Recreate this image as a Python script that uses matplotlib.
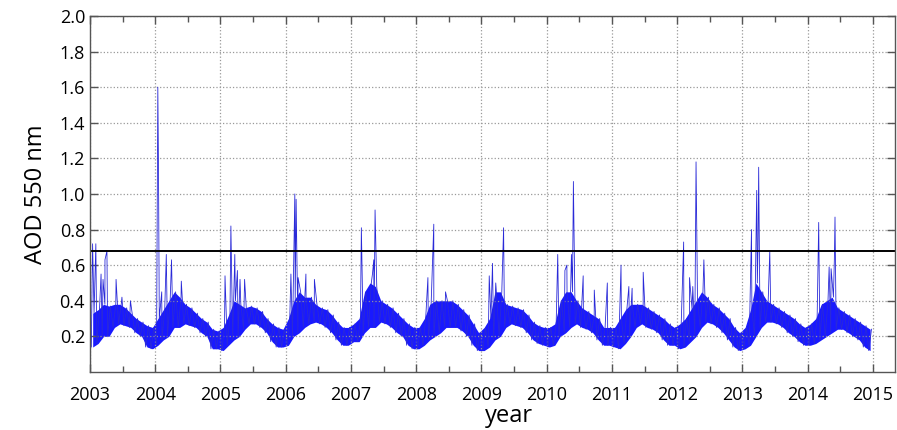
import numpy as np
import matplotlib
matplotlib.use("Agg")
import matplotlib.pyplot as plt
from matplotlib.ticker import MultipleLocator

# data (monthly envelope of the daily AOD + isolated spikes)
years = list(range(2003, 2015))

aod_low = [
    [0.14, 0.16, 0.20, 0.20, 0.25, 0.27, 0.26, 0.25, 0.22, 0.20, 0.14, 0.13],  # 2003
    [0.15, 0.18, 0.20, 0.25, 0.25, 0.27, 0.26, 0.25, 0.22, 0.20, 0.13, 0.13],  # 2004
    [0.12, 0.15, 0.18, 0.20, 0.24, 0.27, 0.27, 0.25, 0.22, 0.17, 0.14, 0.14],  # 2005
    [0.15, 0.20, 0.22, 0.25, 0.27, 0.28, 0.27, 0.25, 0.22, 0.18, 0.15, 0.15],  # 2006
    [0.17, 0.17, 0.22, 0.25, 0.25, 0.28, 0.27, 0.25, 0.22, 0.20, 0.15, 0.13],  # 2007
    [0.13, 0.15, 0.18, 0.20, 0.22, 0.25, 0.25, 0.25, 0.23, 0.20, 0.15, 0.12],  # 2008
    [0.12, 0.14, 0.18, 0.20, 0.25, 0.27, 0.26, 0.25, 0.22, 0.18, 0.16, 0.15],  # 2009
    [0.14, 0.15, 0.20, 0.22, 0.25, 0.27, 0.25, 0.24, 0.22, 0.18, 0.15, 0.15],  # 2010
    [0.14, 0.13, 0.16, 0.20, 0.25, 0.27, 0.25, 0.24, 0.22, 0.18, 0.15, 0.15],  # 2011
    [0.13, 0.14, 0.17, 0.20, 0.25, 0.28, 0.27, 0.25, 0.22, 0.18, 0.14, 0.12],  # 2012
    [0.13, 0.15, 0.20, 0.25, 0.28, 0.28, 0.27, 0.25, 0.22, 0.20, 0.17, 0.15],  # 2013
    [0.15, 0.16, 0.18, 0.20, 0.22, 0.24, 0.24, 0.22, 0.20, 0.18, 0.14, 0.12],  # 2014
]
aod_high = [
    [0.33, 0.35, 0.38, 0.37, 0.38, 0.38, 0.36, 0.33, 0.30, 0.28, 0.26, 0.25],  # 2003
    [0.30, 0.35, 0.40, 0.45, 0.42, 0.38, 0.36, 0.33, 0.30, 0.28, 0.24, 0.23],  # 2004
    [0.25, 0.32, 0.40, 0.38, 0.36, 0.37, 0.36, 0.34, 0.30, 0.27, 0.25, 0.24],  # 2005
    [0.30, 0.40, 0.45, 0.42, 0.42, 0.38, 0.36, 0.35, 0.32, 0.28, 0.25, 0.25],  # 2006
    [0.27, 0.30, 0.45, 0.50, 0.48, 0.40, 0.38, 0.36, 0.33, 0.30, 0.27, 0.25],  # 2007
    [0.25, 0.30, 0.38, 0.40, 0.40, 0.40, 0.40, 0.38, 0.35, 0.32, 0.27, 0.22],  # 2008
    [0.25, 0.30, 0.45, 0.45, 0.38, 0.37, 0.36, 0.35, 0.32, 0.28, 0.26, 0.25],  # 2009
    [0.25, 0.27, 0.40, 0.45, 0.45, 0.40, 0.36, 0.34, 0.32, 0.30, 0.25, 0.25],  # 2010
    [0.25, 0.30, 0.35, 0.38, 0.38, 0.38, 0.36, 0.34, 0.32, 0.30, 0.27, 0.25],  # 2011
    [0.27, 0.30, 0.35, 0.40, 0.45, 0.42, 0.38, 0.36, 0.33, 0.30, 0.25, 0.22],  # 2012
    [0.25, 0.35, 0.50, 0.45, 0.40, 0.38, 0.36, 0.34, 0.32, 0.30, 0.27, 0.25],  # 2013
    [0.27, 0.30, 0.38, 0.40, 0.42, 0.36, 0.34, 0.32, 0.30, 0.28, 0.26, 0.24],  # 2014
]

spike_year = [2003.04, 2003.09, 2003.17, 2003.20, 2003.23, 2003.26, 2003.40, 2003.49, 2003.62,
              2004.04, 2004.05, 2004.10, 2004.17, 2004.25, 2004.40,
              2005.07, 2005.16, 2005.22, 2005.26, 2005.30, 2005.37,
              2006.08, 2006.14, 2006.16, 2006.19, 2006.31, 2006.44,
              2007.16, 2007.33, 2007.35, 2007.37,
              2008.18, 2008.27, 2008.45,
              2009.12, 2009.17, 2009.22, 2009.34,
              2010.17, 2010.28, 2010.31, 2010.38, 2010.41, 2010.56, 2010.73, 2010.93,
              2011.14, 2011.26, 2011.31, 2011.48,
              2012.10, 2012.19, 2012.24, 2012.29, 2012.41,
              2013.14, 2013.22, 2013.24, 2013.25, 2013.42,
              2014.17, 2014.33, 2014.36, 2014.41, 2014.42]
spike_aod = [0.72, 0.72, 0.55, 0.52, 0.63, 0.68, 0.52, 0.42, 0.40,
             1.60, 1.16, 0.45, 0.66, 0.63, 0.51,
             0.54, 0.82, 0.66, 0.57, 0.52, 0.52,
             0.55, 1.00, 0.97, 0.53, 0.55, 0.52,
             0.81, 0.55, 0.63, 0.91,
             0.53, 0.83, 0.45,
             0.54, 0.61, 0.50, 0.81,
             0.66, 0.57, 0.60, 0.66, 1.07, 0.54, 0.46, 0.50,
             0.60, 0.48, 0.47, 0.56,
             0.73, 0.53, 0.48, 1.18, 0.63,
             0.80, 1.02, 0.69, 1.15, 0.68,
             0.84, 0.59, 0.58, 0.63, 0.87]

threshold = 0.68

# zigzag through monthly low/high, then drop the spikes in at their dates
xs, ys, xc, lo, hi = [], [], [], [], []
for i, yr in enumerate(years):
    for m in range(12):
        xs += [yr + (m + 0.25) / 12, yr + (m + 0.75) / 12]
        ys += [aod_low[i][m], aod_high[i][m]]
        xc.append(yr + (m + 0.5) / 12)
        lo.append(aod_low[i][m])
        hi.append(aod_high[i][m])
pts = sorted(zip(xs + spike_year, ys + spike_aod))
px = [p[0] for p in pts]
py = [p[1] for p in pts]

plt.rcParams['font.family'] = ['Open Sans', 'DejaVu Sans']

fig = plt.figure(figsize=(8.97, 4.30), dpi=100)
ax = fig.add_axes([0.1003, 0.135, 0.8975, 0.828])

ax.fill_between(xc, lo, hi, color='#0000ff', alpha=0.9, lw=0)
ax.plot(px, py, color='#2a2ad8', lw=0.6)
ax.axhline(threshold, color='black', lw=1.4)

ax.set_xlim(2003, 2015.34)
ax.set_ylim(0, 2.0)
ax.set_xticks(range(2003, 2016))
ax.xaxis.set_minor_locator(MultipleLocator(0.5))
ax.set_yticks(np.arange(0.2, 2.01, 0.2))
ax.set_yticklabels(['%.1f' % v for v in np.arange(0.2, 2.01, 0.2)])

ax.grid(True, which='major', linestyle=':', color='#999999', lw=0.9)
ax.tick_params(which='both', direction='in', top=True, right=True,
               colors='#555555', labelcolor='black', labelsize=13)
ax.tick_params(which='major', length=6, width=1)
ax.tick_params(which='minor', length=4, width=1)
ax.tick_params(axis='x', pad=10)
for s in ax.spines.values():
    s.set_color('#555555')
    s.set_linewidth(1.0)

ax.set_ylabel('AOD 550 nm', fontsize=17, labelpad=8)
ax.set_xlabel('year', fontsize=17, labelpad=-2)
ax.xaxis.set_label_coords(0.52, -0.09)

fig.savefig('out.png', dpi=100)
